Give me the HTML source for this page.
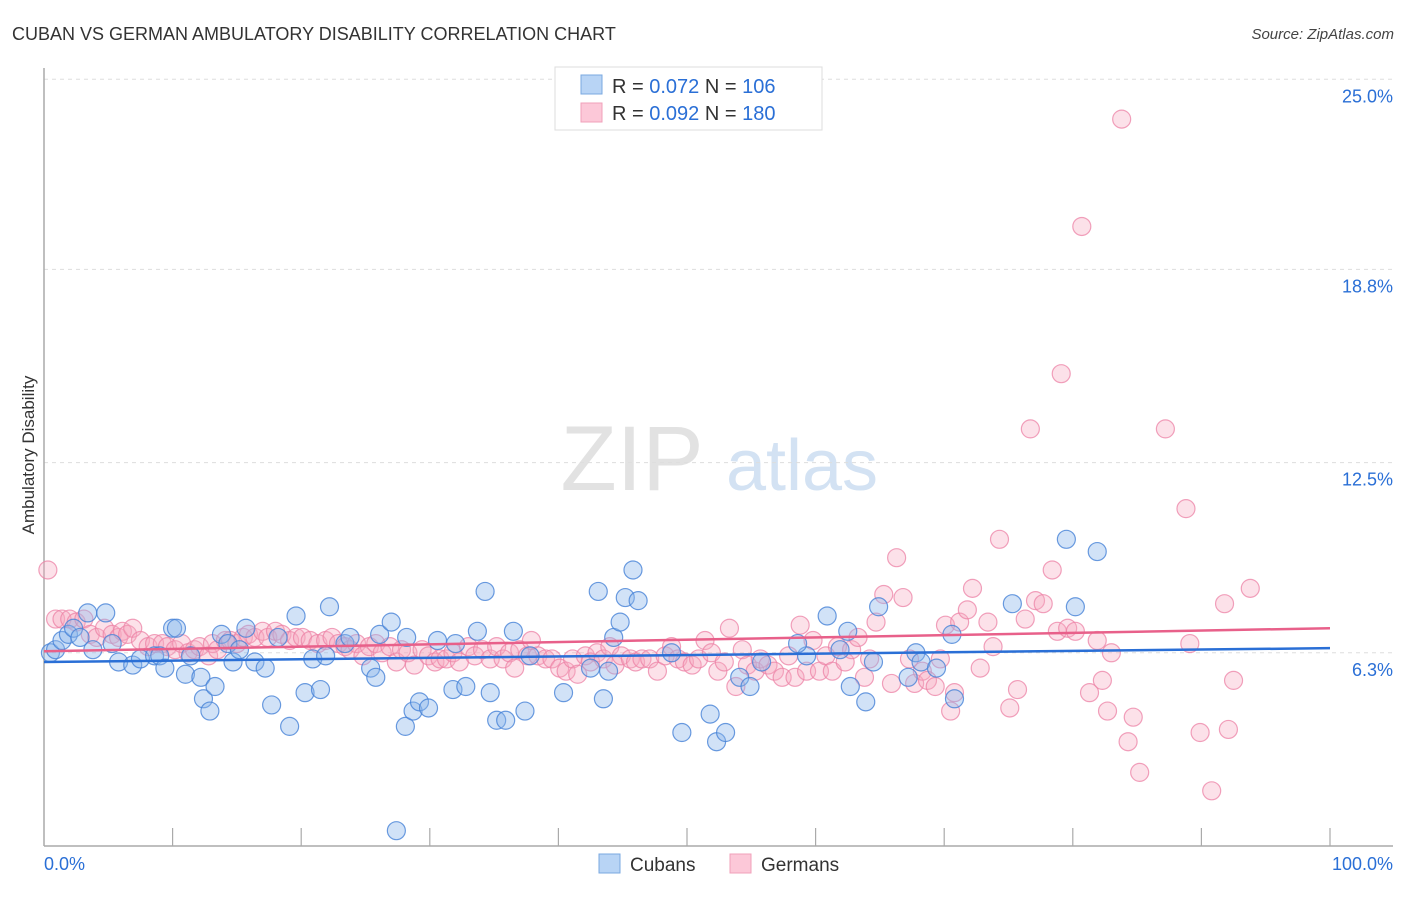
<!DOCTYPE html>
<html><head><meta charset="utf-8"><style>
body{margin:0;background:#fff;font-family:"Liberation Sans",sans-serif}
svg text{font-family:"Liberation Sans",sans-serif}
</style></head><body>
<svg id="chart" width="1406" height="892" xmlns="http://www.w3.org/2000/svg">
<text x="12" y="40" font-size="18" fill="#333">CUBAN VS GERMAN AMBULATORY DISABILITY CORRELATION CHART</text>
<text x="1394" y="39" font-size="15" fill="#444" text-anchor="end" font-style="italic">Source: ZipAtlas.com</text>
<g>
<text x="632" y="490" font-size="92" fill="#e2e2e2" font-family="Liberation Serif" text-anchor="middle">ZIP</text>
<text x="802" y="490" font-size="72" fill="#d3e2f3" text-anchor="middle">atlas</text>
</g>
<g id="grid"></g>
<g id="axes"></g>
<g id="pts"></g>
<g id="trend"></g>
<text transform="translate(34,455) rotate(-90)" font-size="17" fill="#333" text-anchor="middle">Ambulatory Disability</text>
<g>
<rect x="555" y="67" width="267" height="63" fill="#fff" stroke="#ddd"/>
<rect x="581" y="75" width="21" height="19" fill="#b8d4f5" stroke="#7aa8e0"/>
<rect x="581" y="103" width="21" height="19" fill="#fcc8d8" stroke="#f0a0ba"/>
<text x="612" y="93" font-size="20" fill="#333">R = <tspan fill="#2a6fd6">0.072</tspan>   N = <tspan fill="#2a6fd6">106</tspan></text>
<text x="612" y="120" font-size="20" fill="#333">R = <tspan fill="#2a6fd6">0.092</tspan>   N = <tspan fill="#2a6fd6">180</tspan></text>
</g>
<g>
<rect x="599" y="854" width="21" height="19" fill="#b8d4f5" stroke="#7aa8e0"/>
<text x="630" y="871" font-size="19" fill="#333">Cubans</text>
<rect x="730" y="854" width="21" height="19" fill="#fcc8d8" stroke="#f0a0ba"/>
<text x="761" y="871" font-size="19" fill="#333">Germans</text>
</g>
</svg>
<script>
const yTicks=[6.3,12.5,18.8,25.0];
const yTickLabels=["6.3%","12.5%","18.8%","25.0%"];
const xTickVals=[10,20,30,40,50,60,70,80,90,100];
const xLabels=["0.0%","100.0%"];
const cubanX=[0.5,0.9,1.4,1.9,2.3,2.8,3.4,3.8,4.8,5.3,5.8,6.9,7.5,8.6,9.0,9.4,10.0,10.3,11.0,11.4,12.2,12.4,12.9,13.3,13.8,14.3,14.7,15.2,15.7,16.4,17.2,17.7,18.2,19.1,19.6,20.3,20.9,21.5,21.9,22.2,23.4,23.8,25.4,25.8,26.1,27.0,28.1,28.2,28.7,29.2,29.9,30.6,31.8,32.0,32.8,33.7,34.3,34.7,35.2,35.9,36.5,37.4,37.8,40.4,42.5,43.1,43.5,43.9,44.3,44.8,45.2,45.8,46.2,48.8,49.6,51.8,52.3,53.0,54.1,54.9,55.8,59.3,60.9,61.9,62.5,62.7,63.9,64.5,64.9,67.2,67.8,68.2,69.4,70.8,70.6,75.3,79.5,80.2,81.9,27.4,58.6];
const cubanY=[6.3,6.4,6.7,6.9,7.1,6.8,7.6,6.4,7.6,6.6,6.0,5.9,6.1,6.2,6.2,5.8,7.1,7.1,5.6,6.2,5.5,4.8,4.4,5.2,6.9,6.6,6.0,6.4,7.1,6.0,5.8,4.6,6.8,3.9,7.5,5.0,6.1,5.1,6.2,7.8,6.6,6.8,5.8,5.5,6.9,7.3,3.9,6.8,4.4,4.7,4.5,6.7,5.1,6.6,5.2,7.0,8.3,5.0,4.1,4.1,7.0,4.4,6.2,5.0,5.8,8.3,4.8,5.7,6.8,7.3,8.1,9.0,8.0,6.3,3.7,4.3,3.4,3.7,5.5,5.2,6.0,6.2,7.5,6.4,7.0,5.2,4.7,6.0,7.8,5.5,6.3,6.0,5.8,4.8,6.9,7.9,10.0,7.8,9.6,0.5,6.6];
const germanX=[0.3,0.9,1.4,2.0,2.5,3.1,3.6,4.1,4.7,5.3,5.8,6.1,6.5,6.9,7.5,8.1,8.6,9.2,9.6,10.2,10.7,11.2,11.7,12.1,12.8,13.1,13.5,14.1,14.5,15.0,15.5,15.9,16.4,17.0,17.4,18.0,18.5,19.1,19.6,20.1,20.7,21.3,21.9,22.4,22.9,23.4,23.8,24.3,24.8,25.3,25.8,26.3,26.9,27.4,27.8,28.3,28.8,29.4,29.9,30.4,30.8,31.3,31.8,32.3,33.0,33.5,34.1,34.7,35.2,35.7,36.2,36.6,37.0,37.6,37.9,38.4,39.0,39.5,40.1,40.6,41.1,41.5,42.1,42.5,43.0,43.5,44.0,44.4,44.9,45.6,46.0,46.5,47.1,47.7,48.3,48.8,49.3,49.8,50.4,50.9,51.4,51.9,52.4,52.9,53.3,53.8,54.3,54.7,55.3,55.7,56.3,56.8,57.4,57.9,58.4,58.8,59.3,59.8,60.3,60.8,61.3,61.7,62.3,62.8,63.3,63.8,64.2,64.7,65.3,65.9,66.3,66.8,67.3,67.7,68.3,68.7,69.3,69.7,70.1,70.5,70.8,71.2,71.8,72.2,72.8,73.4,73.8,74.3,75.1,75.7,76.3,76.7,77.1,77.7,78.4,78.8,79.1,79.6,80.2,80.7,81.3,81.9,82.3,82.7,83.0,83.8,84.3,84.7,85.2,87.2,88.8,89.1,89.9,90.8,91.8,92.1,92.5,93.8];
const germanY=[9.0,7.4,7.4,7.4,7.3,7.4,6.9,6.8,7.1,6.9,6.8,7.0,6.9,7.1,6.7,6.5,6.6,6.6,6.5,6.4,6.6,6.3,6.4,6.5,6.2,6.6,6.4,6.7,6.7,6.6,6.8,6.9,6.8,7.0,6.8,7.0,6.9,6.7,6.8,6.8,6.7,6.6,6.7,6.8,6.6,6.5,6.4,6.6,6.2,6.5,6.6,6.3,6.5,6.0,6.4,6.3,5.9,6.4,6.2,6.0,6.1,6.1,6.3,6.0,6.5,6.2,6.4,6.1,6.5,6.1,6.3,5.8,6.4,6.2,6.7,6.2,6.1,6.1,5.8,5.7,6.1,5.6,6.2,6.0,6.3,6.1,6.5,5.9,6.2,6.1,6.0,6.1,6.1,5.7,6.2,6.5,6.1,6.0,5.9,6.1,6.7,6.3,5.7,6.0,7.1,5.2,6.4,5.9,5.7,6.1,5.9,5.7,5.5,6.2,5.5,7.2,5.7,6.7,5.7,6.2,5.7,6.5,6.0,6.4,6.8,5.5,6.1,7.3,8.2,5.3,9.4,8.1,6.1,5.3,5.7,5.4,5.2,6.1,7.2,4.4,5.0,7.3,7.7,8.4,5.8,7.3,6.5,10.0,4.5,5.1,7.4,13.6,8.0,7.9,9.0,7.0,15.4,7.1,7.0,20.2,5.0,6.7,5.4,4.4,6.3,23.7,3.4,4.2,2.4,13.6,11.0,6.6,3.7,1.8,7.9,3.8,5.4,8.4];
const cubanTrend=[6.0,6.45];
const germanTrend=[6.35,7.1];
const NS="http://www.w3.org/2000/svg";
const X0=44,X1=1330,YB=846,PPY=30.67;
function sx(v){return X0+(X1-X0)*v/100;}
function sy(v){return YB-v*PPY;}
function mk(tag,attrs,parent){const e=document.createElementNS(NS,tag);for(const k in attrs)e.setAttribute(k,attrs[k]);parent.appendChild(e);return e;}
const grid=document.getElementById('grid'),axes=document.getElementById('axes'),pts=document.getElementById('pts'),trend=document.getElementById('trend');
yTicks.forEach((t,i)=>{
 const l=mk('line',{x1:X0,x2:1393,y1:sy(t),y2:sy(t),stroke:'#ddd','stroke-dasharray':'4,4'},grid);
 
 
 const tx=mk('text',{x:1393,y:sy(t)+23,'font-size':18,fill:'#2a6fd6','text-anchor':'end'},grid);
 tx.textContent=yTickLabels[i];
 
 
});
const ya=mk('line',{x1:X0,x2:X0,y1:68,y2:YB,stroke:'#aaa','stroke-width':1.5},axes);


const xa=mk('line',{x1:X0,x2:1393,y1:YB,y2:YB,stroke:'#aaa','stroke-width':1.5},axes);


xTickVals.forEach(v=>{
 const t=mk('line',{x1:sx(v),x2:sx(v),y1:YB-18,y2:YB,stroke:'#aaa','stroke-width':1.2},axes);
 
 
});
const xl0=mk('text',{x:44,y:870,'font-size':18,fill:'#2a6fd6'},axes);xl0.textContent=xLabels[0];


const xl1=mk('text',{x:1393,y:870,'font-size':18,fill:'#2a6fd6','text-anchor':'end'},axes);xl1.textContent=xLabels[1];


germanX.forEach((x,i)=>{
 const c=mk('circle',{cx:sx(x),cy:sy(germanY[i]),r:9,fill:'rgba(247,168,192,0.35)',stroke:'rgba(236,130,165,0.75)','stroke-width':1.2},pts);
 
 
});
cubanX.forEach((x,i)=>{
 const c=mk('circle',{cx:sx(x),cy:sy(cubanY[i]),r:9,fill:'rgba(140,182,236,0.4)',stroke:'rgba(70,130,215,0.8)','stroke-width':1.2},pts);
 
 
});
const tb=mk('line',{x1:sx(0),x2:sx(100),y1:sy(cubanTrend[0]),y2:sy(cubanTrend[1]),stroke:'#2a6fd6','stroke-width':2.5},trend);


const tp=mk('line',{x1:sx(0),x2:sx(100),y1:sy(germanTrend[0]),y2:sy(germanTrend[1]),stroke:'#e8608a','stroke-width':2.5},trend);


</script>
</body></html>
